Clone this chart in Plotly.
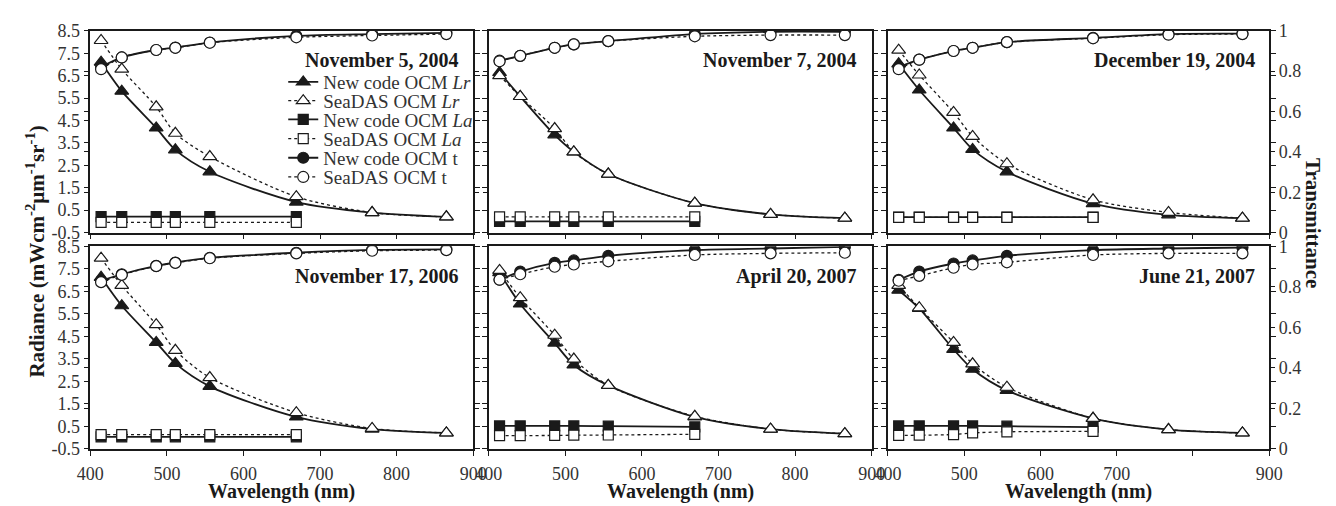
import plotly.graph_objects as go

# ---------------- data ----------------
wavelength = [414, 441, 486, 511, 556, 669, 768, 865]
la_wavelength = [414, 441, 486, 511, 556, 669]

dates = ["November 5, 2004", "November 7, 2004", "December 19, 2004",
         "November 17, 2006", "April 20, 2007", "June 21, 2007"]

lr_new = [
    [7.10, 5.81, 4.17, 3.19, 2.21, 0.86, 0.39, 0.20],
    [6.64, 5.57, 3.86, 3.10, 2.11, 0.81, 0.31, 0.14],
    [7.03, 5.86, 4.17, 3.21, 2.21, 0.79, 0.29, 0.14],
    [7.12, 5.86, 4.23, 3.30, 2.28, 0.92, 0.38, 0.21],
    [7.33, 5.94, 4.20, 3.23, 2.32, 0.92, 0.38, 0.18],
    [6.55, 5.74, 3.92, 3.04, 2.10, 0.86, 0.36, 0.21],
]
lr_seadas = [
    [8.07, 6.79, 5.11, 3.93, 2.89, 1.10, 0.39, 0.20],
    [6.50, 5.57, 4.14, 3.10, 2.11, 0.81, 0.31, 0.14],
    [7.64, 6.53, 4.86, 3.79, 2.57, 0.96, 0.40, 0.14],
    [7.97, 6.76, 5.02, 3.88, 2.67, 1.11, 0.41, 0.21],
    [7.43, 6.22, 4.55, 3.49, 2.32, 0.95, 0.38, 0.18],
    [6.76, 5.77, 4.23, 3.28, 2.24, 0.86, 0.36, 0.21],
]
la_new = [
    [0.21, 0.21, 0.21, 0.21, 0.21, 0.21],
    [0.00, 0.00, 0.00, 0.00, 0.00, 0.00],
    [0.19, 0.19, 0.19, 0.19, 0.19, 0.19],
    [0.04, 0.04, 0.04, 0.04, 0.04, 0.04],
    [0.52, 0.52, 0.52, 0.52, 0.51, 0.48],
    [0.52, 0.52, 0.52, 0.52, 0.51, 0.47],
]
la_seadas = [
    [-0.05, -0.05, -0.05, -0.05, -0.05, -0.05],
    [0.20, 0.20, 0.20, 0.20, 0.20, 0.20],
    [0.18, 0.18, 0.18, 0.18, 0.18, 0.18],
    [0.14, 0.14, 0.14, 0.14, 0.14, 0.14],
    [0.09, 0.09, 0.10, 0.11, 0.12, 0.15],
    [0.10, 0.11, 0.14, 0.21, 0.26, 0.28],
]
t_new = [
    [0.820, 0.868, 0.905, 0.917, 0.942, 0.975, 0.984, 0.990],
    [0.852, 0.876, 0.916, 0.933, 0.949, 0.984, 0.995, 0.995],
    [0.820, 0.857, 0.900, 0.916, 0.944, 0.965, 0.984, 0.986],
    [0.830, 0.862, 0.903, 0.920, 0.943, 0.968, 0.982, 0.985],
    [0.835, 0.875, 0.918, 0.930, 0.953, 0.981, 0.989, 0.997],
    [0.834, 0.875, 0.915, 0.930, 0.953, 0.981, 0.989, 0.994],
]
t_seadas = [
    [0.810, 0.868, 0.905, 0.916, 0.941, 0.968, 0.977, 0.984],
    [0.849, 0.876, 0.916, 0.933, 0.949, 0.973, 0.979, 0.979],
    [0.810, 0.857, 0.900, 0.916, 0.944, 0.963, 0.981, 0.984],
    [0.823, 0.859, 0.902, 0.918, 0.941, 0.965, 0.978, 0.981],
    [0.835, 0.862, 0.899, 0.910, 0.926, 0.957, 0.965, 0.968],
    [0.830, 0.854, 0.894, 0.910, 0.921, 0.957, 0.965, 0.965],
]

series_names = ["New code OCM <i>Lr</i>", "SeaDAS OCM <i>Lr</i>",
                "New code OCM <i>La</i>", "SeaDAS OCM <i>La</i>",
                "New code OCM t", "SeaDAS OCM t"]

x_ticks = [400, 500, 600, 700, 800, 900]
rad_ticks = [-0.5, 0.5, 1.5, 2.5, 3.5, 4.5, 5.5, 6.5, 7.5, 8.5]
tr_ticks = [0, 0.2, 0.4, 0.6, 0.8, 1]

# ---------------- style ----------------
FONT = "Liberation Serif"
INK = "#1a1a1a"
TICKINK = "#333333"
W, H = 1336, 506

col_px = [(78, 469), (485, 876), (892.7, 1282)]
row_px = [(21.7, 231.7), (246, 457)]

fig = go.Figure()

styles = [
    dict(symbol="triangle-up", color=INK, dash="solid", size=12, lw=1.8),
    dict(symbol="triangle-up", color="white", dash="dot", size=12, lw=1.3),
    dict(symbol="square", color=INK, dash="solid", size=10, lw=1.8),
    dict(symbol="square", color="white", dash="dot", size=10, lw=1.3),
    dict(symbol="circle", color=INK, dash="solid", size=11, lw=1.8),
    dict(symbol="circle", color="white", dash="dot", size=11, lw=1.3),
]

legend_rows = [75.0, 94.5, 114.0, 134.0, 154.0, 174.0]

for p in range(6):
    xa = f"x{p + 1}" if p else "x"
    ya = f"y{p + 1}" if p else "y"
    ya_t = f"y{p + 7}"
    data = [
        (wavelength, lr_new[p], ya),
        (wavelength, lr_seadas[p], ya),
        (la_wavelength, la_new[p], ya),
        (la_wavelength, la_seadas[p], ya),
        (wavelength, t_new[p], ya_t),
        (wavelength, t_seadas[p], ya_t),
    ]
    for k, (xs, ys, yax) in enumerate(data):
        st = styles[k]
        leg = "legend" if k == 0 else f"legend{k + 1}"
        fig.add_trace(go.Scatter(
            x=xs, y=ys, xaxis=xa, yaxis=yax,
            mode="lines+markers",
            name=series_names[k],
            showlegend=(p == 0),
            legend=leg,
            line=dict(color=INK, width=st["lw"], dash=st["dash"],
                      shape="spline", smoothing=0.8),
            marker=dict(symbol=st["symbol"], size=st["size"], color=st["color"],
                        line=dict(color=INK, width=1.2)),
            hoverinfo="skip",
        ))

layout = dict(
    width=W, height=H,
    margin=dict(l=0, r=0, t=0, b=0),
    paper_bgcolor="white", plot_bgcolor="white",
    font=dict(family=FONT, size=18, color=INK),
)

for p in range(6):
    r, c = divmod(p, 3)
    x0, x1 = col_px[c]
    y0, y1 = row_px[r]
    xdom = [x0 / W, x1 / W]
    ydom = [1 - y1 / H, 1 - y0 / H]
    xs = "" if p == 0 else str(p + 1)
    ys = "" if p == 0 else str(p + 1)
    ticktext_x = [str(v) for v in x_ticks]
    if p == 5:
        ticktext_x = [("" if v == 800 else str(v)) for v in x_ticks]
    layout["xaxis" + xs] = dict(
        domain=xdom, anchor="y" + ys, range=[400, 900],
        tickvals=x_ticks, ticktext=ticktext_x,
        showticklabels=(r == 1), ticks="outside", ticklen=5, tickwidth=1.3,
        tickcolor=INK, showline=True, linecolor=INK, linewidth=1.5,
        mirror=True, showgrid=False, zeroline=False, ticklabelstandoff=3,
        tickfont=dict(family=FONT, size=18, color=TICKINK),
    )
    layout["yaxis" + ys] = dict(
        domain=ydom, anchor="x" + xs, range=[-0.5, 8.5],
        tickvals=rad_ticks, ticktext=[("%g" % v) for v in rad_ticks],
        showticklabels=(c == 0), ticks="outside", ticklen=5, tickwidth=1.3,
        tickcolor=INK, showline=True, linecolor=INK, linewidth=1.5,
        mirror="ticks", showgrid=False, zeroline=False,
        tickfont=dict(family=FONT, size=18, color=TICKINK),
    )
    layout[f"yaxis{p + 7}"] = dict(
        overlaying="y" + ys, anchor="x" + xs, side="right", range=[0, 1],
        tickvals=tr_ticks, ticktext=[("%g" % v) for v in tr_ticks],
        showticklabels=(c == 2), ticks="outside", ticklen=5, tickwidth=1.3,
        tickcolor=INK, showline=False, mirror="ticks",
        showgrid=False, zeroline=False,
        tickfont=dict(family=FONT, size=18, color=TICKINK),
    )

# separate legends, one row each, stacked like the original
for k in range(6):
    key = "legend" if k == 0 else f"legend{k + 1}"
    layout[key] = dict(
        x=275 / W, y=1 - legend_rows[k] / H, xanchor="left", yanchor="middle",
        bgcolor="rgba(0,0,0,0)", borderwidth=0,
        font=dict(family=FONT, size=19, color=TICKINK),
        itemwidth=30,
    )

fig.update_layout(**layout)

annotations = []
for p in range(6):
    xs = "" if p == 0 else str(p + 1)
    annotations.append(dict(
        text=f"<b>{dates[p]}</b>", xref=f"x{xs} domain", yref=f"y{xs} domain",
        x=0.967, y=0.853, xanchor="right", yanchor="middle", showarrow=False,
        font=dict(family=FONT, size=20, color=INK),
    ))
for c in range(3):
    x0, x1 = col_px[c]
    annotations.append(dict(
        text="<b>Wavelength (nm)</b>", xref="paper", yref="paper",
        x=(x0 + x1) / 2 / W, y=1 - 501 / H, xanchor="center", yanchor="middle",
        showarrow=False, font=dict(family=FONT, size=20, color=INK),
    ))
annotations.append(dict(
    text="<b>Radiance (mWcm<sup>-2</sup>µm<sup>-1</sup>sr<sup>-1</sup>)</b>",
    xref="paper", yref="paper", x=22 / W, y=1 - 252 / H, textangle=-90,
    xanchor="center", yanchor="middle", showarrow=False,
    font=dict(family=FONT, size=21, color=INK),
))
annotations.append(dict(
    text="<b>Transmittance</b>", xref="paper", yref="paper",
    x=1327 / W, y=1 - 222 / H, textangle=90,
    xanchor="center", yanchor="middle", showarrow=False,
    font=dict(family=FONT, size=21, color=INK),
))
fig.update_layout(annotations=annotations)

fig.write_html("out.html")
